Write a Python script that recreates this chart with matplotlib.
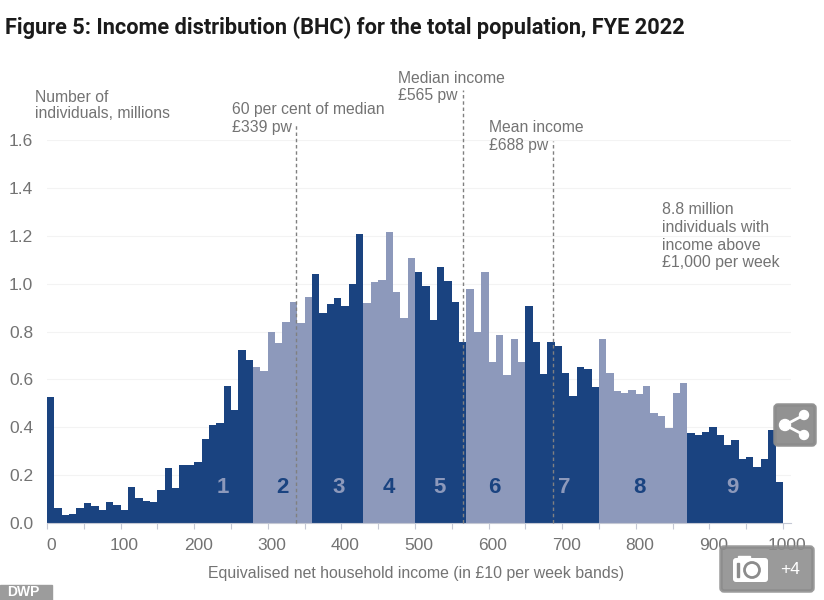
import matplotlib
matplotlib.use("Agg")
import matplotlib.pyplot as plt
from matplotlib.patches import Circle, FancyBboxPatch, Rectangle
from matplotlib.transforms import ScaledTranslation

W, H = 824, 600

DARK = "#1a4380"
LIGHT = "#8d99bb"
TEXT = "#737373"

# millions of individuals in each £10 per week band, 0 to 990
band_values = [
    0.525, 0.064, 0.032, 0.038, 0.064, 0.082, 0.071, 0.053, 0.086, 0.074,
    0.056, 0.152, 0.106, 0.093, 0.089, 0.138, 0.228, 0.148, 0.242, 0.242,
    0.256, 0.351, 0.411, 0.419, 0.572, 0.474, 0.724, 0.682, 0.652, 0.635,
    0.800, 0.752, 0.840, 0.922, 0.836, 0.946, 1.040, 0.877, 0.916, 0.941,
    0.905, 0.999, 1.208, 0.920, 1.005, 1.017, 1.217, 0.964, 0.858, 1.106,
    1.050, 0.989, 0.847, 1.071, 1.011, 0.922, 0.755, 0.978, 0.798, 1.050,
    0.673, 0.784, 0.620, 0.770, 0.671, 0.905, 0.755, 0.624, 0.755, 0.741,
    0.627, 0.529, 0.652, 0.645, 0.567, 0.770, 0.627, 0.553, 0.542, 0.557,
    0.539, 0.574, 0.461, 0.448, 0.397, 0.542, 0.584, 0.376, 0.369, 0.379,
    0.401, 0.369, 0.325, 0.348, 0.267, 0.274, 0.234, 0.267, 0.390, 0.173,
]
band_width = 10

# upper income edge of deciles 1 to 8
decile_edges = [280, 360, 430, 500, 570, 650, 750, 870]
decile_labels = ["1", "2", "3", "4", "5", "6", "7", "8", "9"]
decile_label_x = [239, 320, 396, 465, 533, 608, 703, 805, 932]

x_ticks = list(range(0, 1001, 100))
x_minor_ticks = list(range(50, 1000, 100))
y_ticks = [0.0, 0.2, 0.4, 0.6, 0.8, 1.0, 1.2, 1.4, 1.6]

marker_x = [339, 565, 688]
marker_top = [1.67, 1.81, 1.595]
marker_text = [
    "60 per cent of median\n£339 pw",
    "Median income\n£565 pw",
    "Mean income\n£688 pw",
]


def decile_of(income):
    return sum(income >= edge for edge in decile_edges)


def px_box(left, top, right, bottom):
    # figure fractions for a box given in pixels from the top left
    return [left / W, 1 - bottom / H, (right - left) / W, (bottom - top) / H]


plt.rcParams["font.family"] = ["Liberation Sans", "DejaVu Sans"]

fig = plt.figure(figsize=(W / 100, H / 100), dpi=100)
ax = fig.add_axes(px_box(47, 140, 791, 523))
ax.set_xlim(0, 1011)
ax.set_ylim(0, 1.6)

left_edges = [i * band_width for i in range(len(band_values))]
colours = [LIGHT if decile_of(x) % 2 else DARK for x in left_edges]
ax.bar(left_edges, band_values, width=band_width, align="edge", color=colours,
       linewidth=0, zorder=2)

ax.set_yticks(y_ticks)
ax.set_yticklabels([f"{v:.1f}" for v in y_ticks], fontsize=12.5, color=TEXT)
ax.grid(axis="y", color="#f3f3f3", linewidth=0.8, zorder=0)
ax.tick_params(axis="y", length=0, pad=10)

ax.set_xticks(x_ticks)
ax.set_xticks(x_minor_ticks, minor=True)
ax.set_xticklabels([str(v) for v in x_ticks], fontsize=12.5, color=TEXT)
ax.tick_params(axis="x", which="both", length=4, color="#c4c8d4", width=0.8, pad=7)
shift = ScaledTranslation(4 / 100, 0, fig.dpi_scale_trans)
for label in ax.get_xticklabels():
    label.set_transform(label.get_transform() + shift)

for side in ["top", "right", "left"]:
    ax.spines[side].set_visible(False)
ax.spines["bottom"].set_color("#c4c8d4")
ax.spines["bottom"].set_linewidth(0.8)

ax.set_xlabel("Equivalised net household income (in £10 per week bands)",
              fontsize=11.4, color=TEXT)
ax.xaxis.set_label_coords((416 - 47) / (791 - 47), -0.112)

for x, top in zip(marker_x, marker_top):
    ax.plot([x, x], [0, top], color="#808080", linewidth=1, dashes=(2.5, 2),
            clip_on=False, zorder=3)

for i, (label, x) in enumerate(zip(decile_labels, decile_label_x)):
    ax.text(x, 0.147, label, ha="center", va="center", fontsize=16,
            fontweight="bold", color=DARK if i % 2 else LIGHT, zorder=4)

fig.text(5 / W, 1 - 27.5 / H, "Figure 5: Income distribution (BHC) for the total population, FYE 2022",
         fontsize=15.7, fontweight="bold", family="Roboto", color="#1b1b1b", va="center")
fig.text(35 / W, 1 - 105.5 / H, "Number of\nindividuals, millions", fontsize=11.3,
         color=TEXT, va="center", linespacing=1.1)
marker_text_pos = [(232, 118.5), (398, 87), (489, 136.5)]
for text, (x, y) in zip(marker_text, marker_text_pos):
    fig.text(x / W, 1 - y / H, text, fontsize=11.3, color=TEXT, va="center", linespacing=1.2)
fig.text(662 / W, 1 - 236 / H, "8.8 million\nindividuals with\nincome above\n£1,000 per week",
         fontsize=11.45, color=TEXT, va="center", linespacing=1.25)

# page furniture layered over the chart, placed in pixel coordinates
overlay = fig.add_axes([0, 0, 1, 1], zorder=10)
overlay.set_xlim(0, W)
overlay.set_ylim(H, 0)
overlay.axis("off")
overlay.patch.set_alpha(0)

overlay.add_patch(FancyBboxPatch((775, 405), 40, 40, boxstyle="round,pad=0,rounding_size=3",
                                 linewidth=2.5, edgecolor="#8c8c8c",
                                 facecolor="#8c8c8c", alpha=0.95))
share_nodes = [(785, 425), (804, 415), (804, 435)]
overlay.plot([804, 785, 804], [415, 425, 435], color="white", linewidth=2)
for (x, y), r in zip(share_nodes, [5.5, 4.5, 4.5]):
    overlay.add_patch(Circle((x, y), r, color="white"))

overlay.add_patch(FancyBboxPatch((721, 547), 92, 44, boxstyle="round,pad=0,rounding_size=3",
                                 linewidth=2.5, edgecolor="#8c8c8c", facecolor="#8c8c8c",
                                 alpha=0.88))
overlay.add_patch(FancyBboxPatch((733, 558), 35, 24, boxstyle="round,pad=0,rounding_size=3",
                                 linewidth=0, facecolor="white"))
overlay.add_patch(Rectangle((738, 556), 12, 4, color="white"))
overlay.add_patch(Circle((752, 570), 7.5, facecolor="white", edgecolor="#8c8c8c", linewidth=2))
overlay.add_patch(Rectangle((737, 563), 2, 14, color="#8c8c8c"))
overlay.text(790, 570, "+4", color="white", fontsize=12.5, ha="center", va="center")

overlay.add_patch(Rectangle((0, 585), 52, 15, color="#9c9c9c"))
overlay.text(7, 592.5, "DWP", color="white", fontsize=10, fontweight="bold", va="center")

fig.savefig("out.png", dpi=100)
